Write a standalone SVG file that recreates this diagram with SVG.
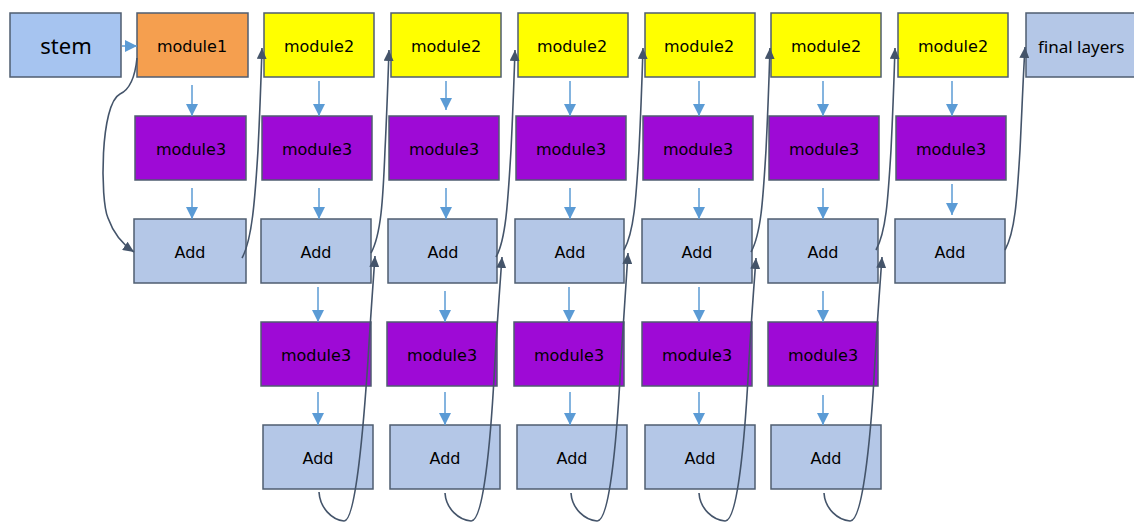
<svg xmlns="http://www.w3.org/2000/svg" width="1134" height="523" viewBox="0 0 1134 523">
  <style>
    .box { stroke: #4f5d70; stroke-width: 1.5; }
    .stem { fill: #a6c4f0; }
    .m1 { fill: #f59f4f; }
    .m2 { fill: #ffff00; }
    .m3 { fill: #9e0ad6; }
    .add { fill: #b4c7e7; }
    .lbl { font-family: "DejaVu Sans", sans-serif; font-size: 16px; fill: #000; text-anchor: middle; }
    .big { font-family: "Noto Sans", "Open Sans", sans-serif; font-size: 22px; fill: #000; text-anchor: middle; }
    .fin { font-family: "Noto Sans", "Open Sans", sans-serif; font-size: 17px; fill: #000; }
    .flow { fill: none; stroke: #5b9bd5; stroke-width: 1.5; marker-end: url(#blueHead); }
    .skip { fill: none; stroke: #44546a; stroke-width: 1.6; marker-end: url(#darkHead); }
  </style>
  <defs>
    <marker id="blueHead" markerUnits="userSpaceOnUse" markerWidth="12" markerHeight="12" viewBox="0 0 10 10" refX="10" refY="5" orient="auto">
      <path d="M0,0 L10,5 L0,10 Z" fill="#5b9bd5"/>
    </marker>
    <marker id="darkHead" markerUnits="userSpaceOnUse" markerWidth="11" markerHeight="10" viewBox="0 0 11 10" refX="11" refY="5" orient="auto">
      <path d="M0,0 L11,5 L0,10 Z" fill="#44546a"/>
    </marker>
  </defs>

  <!-- top row -->
  <g id="stem"><rect class="box stem" x="10" y="13" width="111" height="64"/><text class="big" x="66" y="54">stem</text></g>
  <g id="module1"><rect class="box m1" x="137" y="13" width="111" height="64"/><text class="lbl" x="192" y="52">module1</text></g>
  <g id="module2-a"><rect class="box m2" x="264" y="13" width="110" height="64"/><text class="lbl" x="319" y="52">module2</text></g>
  <g id="module2-b"><rect class="box m2" x="391" y="13" width="110" height="64"/><text class="lbl" x="446" y="52">module2</text></g>
  <g id="module2-c"><rect class="box m2" x="518" y="13" width="110" height="64"/><text class="lbl" x="572" y="52">module2</text></g>
  <g id="module2-d"><rect class="box m2" x="645" y="13" width="110" height="64"/><text class="lbl" x="699" y="52">module2</text></g>
  <g id="module2-e"><rect class="box m2" x="771" y="13" width="110" height="64"/><text class="lbl" x="826" y="52">module2</text></g>
  <g id="module2-f"><rect class="box m2" x="898" y="13" width="110" height="64"/><text class="lbl" x="953" y="52">module2</text></g>
  <g id="final-layers"><rect class="box add" x="1026" y="13" width="120" height="64"/><text class="fin" x="1038" y="53">final layers</text></g>

  <!-- second row: module3 -->
  <g id="module3-1"><rect class="box m3" x="135" y="116" width="111" height="64"/><text class="lbl" x="191" y="155">module3</text></g>
  <g id="module3-2"><rect class="box m3" x="262" y="116" width="110" height="64"/><text class="lbl" x="317" y="155">module3</text></g>
  <g id="module3-3"><rect class="box m3" x="389" y="116" width="110" height="64"/><text class="lbl" x="444" y="155">module3</text></g>
  <g id="module3-4"><rect class="box m3" x="516" y="116" width="110" height="64"/><text class="lbl" x="571" y="155">module3</text></g>
  <g id="module3-5"><rect class="box m3" x="643" y="116" width="110" height="64"/><text class="lbl" x="698" y="155">module3</text></g>
  <g id="module3-6"><rect class="box m3" x="769" y="116" width="110" height="64"/><text class="lbl" x="824" y="155">module3</text></g>
  <g id="module3-7"><rect class="box m3" x="896" y="116" width="110" height="64"/><text class="lbl" x="951" y="155">module3</text></g>

  <!-- third row: add -->
  <g id="add-1"><rect class="box add" x="134" y="219" width="112" height="64"/><text class="lbl" x="190" y="258">Add</text></g>
  <g id="add-2"><rect class="box add" x="261" y="219" width="110" height="64"/><text class="lbl" x="316" y="258">Add</text></g>
  <g id="add-3"><rect class="box add" x="388" y="219" width="109" height="64"/><text class="lbl" x="443" y="258">Add</text></g>
  <g id="add-4"><rect class="box add" x="515" y="219" width="109" height="64"/><text class="lbl" x="570" y="258">Add</text></g>
  <g id="add-5"><rect class="box add" x="642" y="219" width="110" height="64"/><text class="lbl" x="697" y="258">Add</text></g>
  <g id="add-6"><rect class="box add" x="768" y="219" width="110" height="64"/><text class="lbl" x="823" y="258">Add</text></g>
  <g id="add-7"><rect class="box add" x="895" y="219" width="110" height="64"/><text class="lbl" x="950" y="258">Add</text></g>

  <!-- fourth row: module3 -->
  <g id="module3-2b"><rect class="box m3" x="261" y="322" width="110" height="64"/><text class="lbl" x="316" y="361">module3</text></g>
  <g id="module3-3b"><rect class="box m3" x="387" y="322" width="110" height="64"/><text class="lbl" x="442" y="361">module3</text></g>
  <g id="module3-4b"><rect class="box m3" x="514" y="322" width="110" height="64"/><text class="lbl" x="569" y="361">module3</text></g>
  <g id="module3-5b"><rect class="box m3" x="642" y="322" width="110" height="64"/><text class="lbl" x="697" y="361">module3</text></g>
  <g id="module3-6b"><rect class="box m3" x="768" y="322" width="110" height="64"/><text class="lbl" x="823" y="361">module3</text></g>

  <!-- fifth row: add -->
  <g id="add-2b"><rect class="box add" x="263" y="425" width="110" height="64"/><text class="lbl" x="318" y="464">Add</text></g>
  <g id="add-3b"><rect class="box add" x="390" y="425" width="110" height="64"/><text class="lbl" x="445" y="464">Add</text></g>
  <g id="add-4b"><rect class="box add" x="517" y="425" width="110" height="64"/><text class="lbl" x="572" y="464">Add</text></g>
  <g id="add-5b"><rect class="box add" x="645" y="425" width="110" height="64"/><text class="lbl" x="700" y="464">Add</text></g>
  <g id="add-6b"><rect class="box add" x="771" y="425" width="110" height="64"/><text class="lbl" x="826" y="464">Add</text></g>

  <g id="connectors">
    <!-- main flow (blue) -->
    <path class="flow" d="M122,46 L137,46"/>
    <path class="flow" d="M192,85 L192,116"/>
    <path class="flow" d="M192,188 L192,219"/>
    <path class="flow" d="M319,81 L319,116"/>
    <path class="flow" d="M319,188 L319,219"/>
    <path class="flow" d="M318,287 L318,322"/>
    <path class="flow" d="M318,392 L318,425"/>
    <path class="flow" d="M446,81 L446,110"/>
    <path class="flow" d="M446,188 L446,219"/>
    <path class="flow" d="M445,291 L445,322"/>
    <path class="flow" d="M445,392 L445,425"/>
    <path class="flow" d="M570,81 L570,116"/>
    <path class="flow" d="M570,188 L570,219"/>
    <path class="flow" d="M569,287 L569,322"/>
    <path class="flow" d="M570,392 L570,425"/>
    <path class="flow" d="M699,81 L699,116"/>
    <path class="flow" d="M699,188 L699,219"/>
    <path class="flow" d="M699,287 L699,322"/>
    <path class="flow" d="M699,392 L699,425"/>
    <path class="flow" d="M823,81 L823,116"/>
    <path class="flow" d="M823,188 L823,219"/>
    <path class="flow" d="M823,291 L823,322"/>
    <path class="flow" d="M823,395 L823,425"/>
    <path class="flow" d="M952,81 L952,116"/>
    <path class="flow" d="M952,184 L952,215"/>

    <!-- skip connections (dark) -->
    <path class="skip" d="M137,58 C135,78 129,90 120,94 C100,104 100,200 108,218 C113,232 122,244 134,252"/>
    <path class="skip" d="M242,258 C252,240 255,200 258,150 C260,110 261,80 262,48"/>
    <path class="skip" d="M371,253 C381,235 383,200 385,150 C387,110 388,80 389,50"/>
    <path class="skip" d="M496,257 C506,240 508,200 511,150 C513,110 514,80 515,50"/>
    <path class="skip" d="M624,250 C634,232 636,200 639,150 C641,110 642,80 643,48"/>
    <path class="skip" d="M751,252 C761,234 763,200 766,150 C768,110 769,80 770,48"/>
    <path class="skip" d="M876,250 C886,232 888,200 891,150 C893,110 894,80 895,48"/>
    <path class="skip" d="M1005,250 C1015,232 1017,200 1020,150 C1022,110 1023,80 1025,47"/>

    <!-- inner skip loops -->
    <path class="skip" d="M319,492 C320,508 332,520 344,521 C356,522 364,420 368,360 C371,310 373,285 375,256"/>
    <path class="skip" d="M445,493 C446,509 459,520 471,521 C485,522 492,420 495,360 C498,310 500,285 502,257"/>
    <path class="skip" d="M571,493 C572,509 585,520 597,521 C611,522 618,420 621,360 C624,310 626,285 628,253"/>
    <path class="skip" d="M699,493 C700,509 713,520 725,521 C739,522 746,420 749,360 C752,310 754,285 756,258"/>
    <path class="skip" d="M824,493 C825,509 838,520 850,521 C864,522 872,420 875,360 C878,310 880,285 882,257"/>
  </g>
</svg>
